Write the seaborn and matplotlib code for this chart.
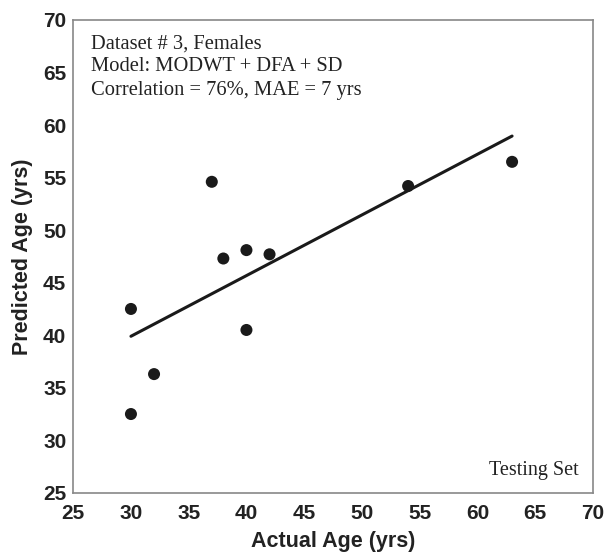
import pandas as pd
import numpy as np
import seaborn as sns
import matplotlib.pyplot as plt

actual_age = [30, 30, 32, 37, 38, 40, 40, 42, 54, 63]
predicted_age = [42.5, 32.5, 36.3, 54.6, 47.3, 48.1, 40.5, 47.7, 54.2, 56.5]
info_lines = ['Dataset # 3, Females', 'Model: MODWT + DFA + SD', 'Correlation = 76%, MAE = 7 yrs']
ticks = list(range(25, 71, 5))

df = pd.DataFrame({'Actual': actual_age, 'Predicted': predicted_age})

sns.set_style("white")
plt.rcParams['font.family'] = ['Liberation Sans', 'DejaVu Sans']

fig = plt.figure(figsize=(6.1, 5.55), dpi=100)
ax = fig.add_axes([0.12, 0.112, 0.852, 0.852])
sns.regplot(data=df, x='Actual', y='Predicted', ci=None, truncate=True, ax=ax,
            scatter_kws={'s': 75, 'color': '#1a1a1a', 'edgecolor': 'none', 'alpha': 1},
            line_kws={'color': '#1a1a1a', 'lw': 2.2})

ax.set_xlim(25, 70)
ax.set_ylim(25, 70)
ax.set_xticks(ticks)
ax.set_yticks(ticks)
ax.tick_params(direction='in', length=5, width=0.8, color='#555555', labelsize=15)
ax.tick_params(axis='x', pad=8)
ax.tick_params(axis='y', pad=5)
for lab in ax.get_xticklabels() + ax.get_yticklabels():
    lab.set_fontweight('bold')
    lab.set_color('#222222')
for s in ax.spines.values():
    s.set_color('#888888')
    s.set_linewidth(1.2)

ax.set_xlabel('Actual Age (yrs)', fontsize=15.5, fontweight='bold', color='#222222', labelpad=6)
ax.set_ylabel('Predicted Age (yrs)', fontsize=15.5, fontweight='bold', color='#222222', labelpad=7)

ax.text(0.035, 0.97, '\n'.join(info_lines), transform=ax.transAxes, ha='left', va='top',
        family='Liberation Serif', fontsize=14.8, color='#222222', linespacing=1.3)
ax.text(0.973, 0.038, 'Testing Set', transform=ax.transAxes, ha='right', va='baseline',
        family='Liberation Serif', fontsize=14.5, color='#222222')

plt.savefig('out.png', dpi=100)
plt.close()
